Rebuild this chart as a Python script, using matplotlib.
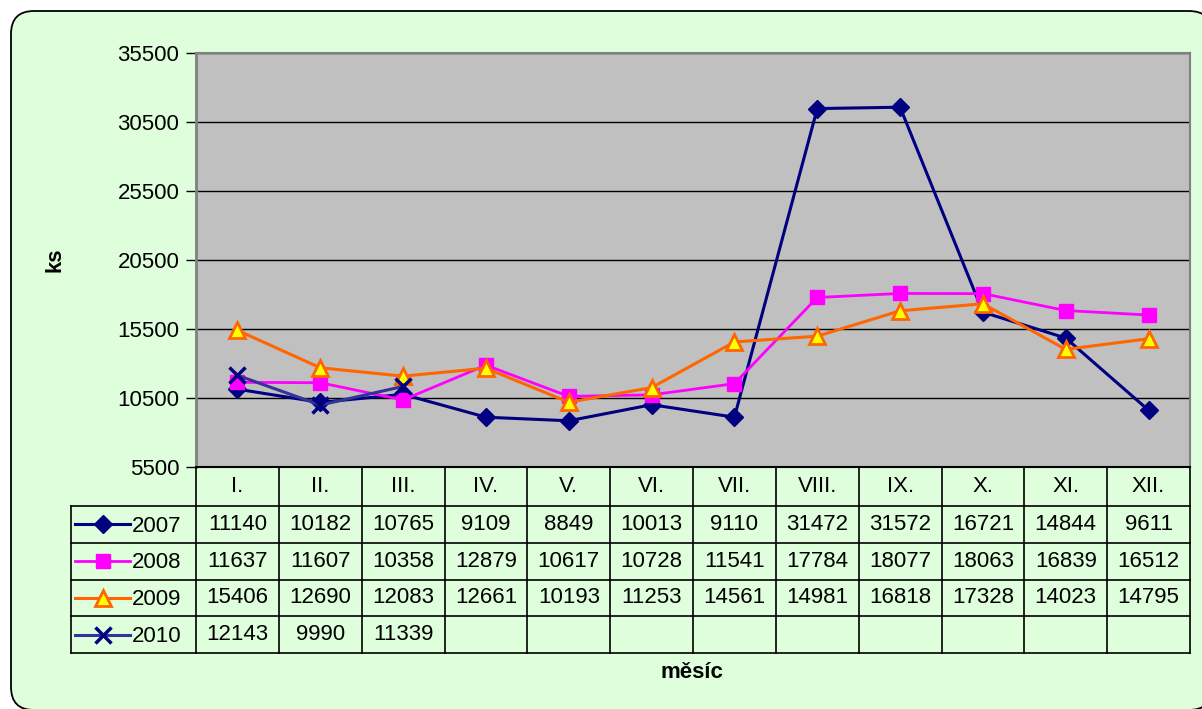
import matplotlib
matplotlib.use("Agg")
import matplotlib.pyplot as plt
from matplotlib.patches import FancyBboxPatch

plt.rcParams['font.family'] = ['Liberation Sans', 'DejaVu Sans']

months = ["I.", "II.", "III.", "IV.", "V.", "VI.", "VII.", "VIII.", "IX.", "X.", "XI.", "XII."]
years = ["2007", "2008", "2009", "2010"]
v2007 = [11140, 10182, 10765, 9109, 8849, 10013, 9110, 31472, 31572, 16721, 14844, 9611]
v2008 = [11637, 11607, 10358, 12879, 10617, 10728, 11541, 17784, 18077, 18063, 16839, 16512]
v2009 = [15406, 12690, 12083, 12661, 10193, 11253, 14561, 14981, 16818, 17328, 14023, 14795]
v2010 = [12143, 9990, 11339]
series = [v2007, v2008, v2009, v2010]
yticks = [5500, 10500, 15500, 20500, 25500, 30500, 35500]
ylabel = "ks"
xlabel = "měsíc"

FS = 16

styles = [
    dict(color="#000080", marker="D", ms=9, mfc="#000080", mec="#000080", lw=2.2),
    dict(color="#FF00FF", marker="s", ms=10, mfc="#FF00FF", mec="#FF00FF", lw=2.0),
    dict(color="#FF6600", marker="^", ms=11, mfc="#FFFF00", mec="#FF6600", mew=2, lw=2.2),
    dict(color="#333399", marker="x", ms=11, mfc="#000080", mec="#000080", mew=2.5, lw=2.2),
]

W, H = 1202, 709
fig = plt.figure(figsize=(W / 100, H / 100), dpi=100)
fig.patch.set_facecolor("white")

# background axes in pixel coordinates
bgax = fig.add_axes([0, 0, 1, 1], zorder=-5)
bgax.set_xlim(0, W)
bgax.set_ylim(H, 0)
bgax.axis("off")
bg = FancyBboxPatch((11, 11), 1201, 699, boxstyle="round,pad=0,rounding_size=23",
                    facecolor="#DEFEDC", edgecolor="black", linewidth=1.3, clip_on=False)
bgax.add_patch(bg)

def fx(px):
    return px / W

def fy(py):
    return 1 - py / H

pl, pr, pt, pb = 196, 1190, 53, 467
ax = fig.add_axes([fx(pl), fy(pb), fx(pr) - fx(pl), fy(pt) - fy(pb)])
ax.set_facecolor("#C0C0C0")
n = len(months)
ax.set_xlim(0, n)
ax.set_ylim(yticks[0], yticks[-1])
ax.set_yticks(yticks)
ax.set_yticklabels([str(t) for t in yticks], fontsize=FS)
ax.tick_params(axis="y", length=7, width=1, color="black", pad=5)
ax.set_xticks([])
ax.grid(axis="y", color="black", linewidth=1)
ax.set_axisbelow(True)
for s in ["top", "right"]:
    ax.spines[s].set_color("#808080")
    ax.spines[s].set_linewidth(1.5)
ax.spines["left"].set_color("#808080")
ax.spines["left"].set_linewidth(2)
ax.spines["bottom"].set_color("black")
ax.spines["bottom"].set_linewidth(1.5)

for vals, st in zip(series, styles):
    xs = [i + 0.5 for i in range(len(vals))]
    ax.plot(xs, vals, clip_on=False, zorder=3, **st)

fig.text(fx(55), fy(260), ylabel, rotation=90, fontsize=FS, fontweight="bold",
         ha="center", va="center")

# data table
tl, tb = 71, 653
header_h, row_h = 39, 36.75
unit = (pr - pl) / n
tax = fig.add_axes([fx(tl), fy(tb), fx(pr) - fx(tl), fy(pb) - fy(tb)])
tax.set_xlim((tl - pl) / unit, n)
hrow = header_h / row_h
tax.set_ylim(len(years), -hrow)
tax.axis("off")
tax.patch.set_alpha(0)

lkw = dict(color="black", linewidth=1.2, clip_on=False)
left = (tl - pl) / unit
for r in range(0, len(years) + 1):
    tax.plot([left, n], [r, r], **lkw)
for c in range(0, n + 1):
    tax.plot([c, c], [-hrow, len(years)], **lkw)
tax.plot([left, left], [0, len(years)], **lkw)

for i, m in enumerate(months):
    tax.text(i + 0.5, -hrow / 2, m, ha="center", va="center", fontsize=FS)

for r, (yr, vals, st) in enumerate(zip(years, series, styles)):
    yc = r + 0.5
    x0, x1 = (75 - pl) / unit, (130 - pl) / unit
    tax.plot([x0, x1], [yc, yc], color=st["color"], lw=st["lw"], clip_on=False)
    tax.plot([(x0 + x1) / 2], [yc], linestyle="none", marker=st["marker"], ms=st["ms"],
             mfc=st["mfc"], mec=st["mec"], mew=st.get("mew", 1), clip_on=False)
    tax.text((132 - pl) / unit, yc + 0.05, yr, ha="left", va="center", fontsize=FS)
    for i, v in enumerate(vals):
        tax.text(i + 0.5, yc, str(v), ha="center", va="center", fontsize=FS)

fig.text(fx(692), fy(672), xlabel, fontsize=FS, fontweight="bold", ha="center", va="center")

fig.savefig("out.png", dpi=100, facecolor=fig.get_facecolor())
